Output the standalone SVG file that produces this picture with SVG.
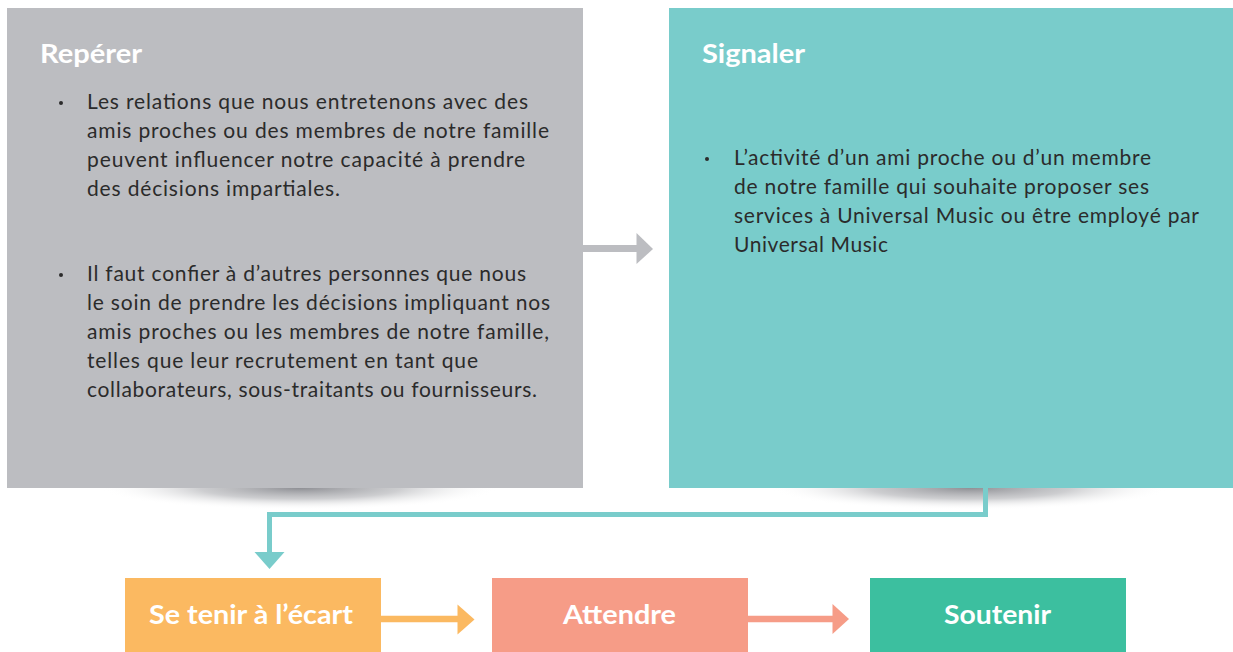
<svg xmlns="http://www.w3.org/2000/svg" width="1233" height="652" viewBox="0 0 1233 652">
<style>
.title{font-family:Lato,"Open Sans",sans-serif;font-weight:700;font-size:27px;fill:#ffffff}
.body{font-family:Lato,"Open Sans",sans-serif;font-size:21px;fill:#2b2b2b}
.lbl{font-family:Lato,"Open Sans",sans-serif;font-weight:700;font-size:27px;fill:#ffffff}
.dot{fill:#2b2b2b}
</style>
<defs>
<radialGradient id="sh" cx="0.5" cy="0.5" r="0.5">
<stop offset="0" stop-color="#8e8f94" stop-opacity="1"/>
<stop offset="0.5" stop-color="#acadb1" stop-opacity="0.6"/>
<stop offset="1" stop-color="#ffffff" stop-opacity="0"/>
</radialGradient>
</defs>
<g id="shadows">
<ellipse cx="300" cy="488" rx="200" ry="22" fill="url(#sh)"/>
<ellipse cx="970" cy="488" rx="200" ry="22" fill="url(#sh)"/>
</g>
<g id="connectors">
<path d="M583 248.5 H638" stroke="#bcbdc1" stroke-width="7" fill="none"/>
<polygon points="636.5,233 653,249 636.5,264" fill="#bcbdc1"/>
<path d="M985.5 488 V514.5 H269.5 V553" stroke="#79cccb" stroke-width="5" fill="none"/>
<polygon points="254.5,552 284.5,552 269.5,569" fill="#79cccb"/>
<path d="M381 619 H459" stroke="#fbb961" stroke-width="6.5" fill="none"/>
<polygon points="457.5,604.5 474.5,619.5 457.5,634.5" fill="#fbb961"/>
<path d="M748 619 H834" stroke="#f69c87" stroke-width="6.5" fill="none"/>
<polygon points="832.5,604 849,619 832.5,634" fill="#f69c87"/>
</g>
<g id="reperer">
<rect x="7" y="8" width="576" height="480" fill="#bcbdc1"/>
<text class="title" x="40" y="63" textLength="102" lengthAdjust="spacingAndGlyphs">Repérer</text>
<circle class="dot" cx="61" cy="103" r="2"/>
<text class="body" x="87" y="109" textLength="441" lengthAdjust="spacing">Les relations que nous entretenons avec des</text>
<text class="body" x="87" y="138" textLength="462" lengthAdjust="spacing">amis proches ou des membres de notre famille</text>
<text class="body" x="87" y="167" textLength="438" lengthAdjust="spacing">peuvent influencer notre capacité à prendre</text>
<text class="body" x="87" y="196" textLength="253" lengthAdjust="spacing">des décisions impartiales.</text>
<circle class="dot" cx="61" cy="275" r="2"/>
<text class="body" x="87" y="281" textLength="439" lengthAdjust="spacing">Il faut confier à d’autres personnes que nous</text>
<text class="body" x="87" y="310" textLength="463" lengthAdjust="spacing">le soin de prendre les décisions impliquant nos</text>
<text class="body" x="87" y="339" textLength="462" lengthAdjust="spacing">amis proches ou les membres de notre famille,</text>
<text class="body" x="87" y="368" textLength="391" lengthAdjust="spacing">telles que leur recrutement en tant que</text>
<text class="body" x="87" y="397" textLength="450" lengthAdjust="spacing">collaborateurs, sous-traitants ou fournisseurs.</text>
</g>
<g id="signaler">
<rect x="669" y="8" width="564" height="480" fill="#79cccb"/>
<text class="title" x="702" y="63" textLength="103" lengthAdjust="spacingAndGlyphs">Signaler</text>
<circle class="dot" cx="707" cy="159" r="2"/>
<text class="body" x="734" y="165" textLength="417" lengthAdjust="spacing">L’activité d’un ami proche ou d’un membre</text>
<text class="body" x="734" y="194" textLength="415" lengthAdjust="spacing">de notre famille qui souhaite proposer ses</text>
<text class="body" x="734" y="223" textLength="465" lengthAdjust="spacing">services à Universal Music ou être employé par</text>
<text class="body" x="734" y="252" textLength="154" lengthAdjust="spacing">Universal Music</text>
</g>
<g id="se-tenir">
<rect x="125" y="578" width="256" height="74" fill="#fbb961"/>
<text class="lbl" x="149" y="624" textLength="204" lengthAdjust="spacingAndGlyphs">Se tenir à l’écart</text>
</g>
<g id="attendre">
<rect x="492" y="578" width="256" height="74" fill="#f69c87"/>
<text class="lbl" x="563" y="624" textLength="113" lengthAdjust="spacingAndGlyphs">Attendre</text>
</g>
<g id="soutenir">
<rect x="870" y="578" width="256" height="74" fill="#3cbf9f"/>
<text class="lbl" x="944" y="624" textLength="107" lengthAdjust="spacingAndGlyphs">Soutenir</text>
</g>
</svg>
